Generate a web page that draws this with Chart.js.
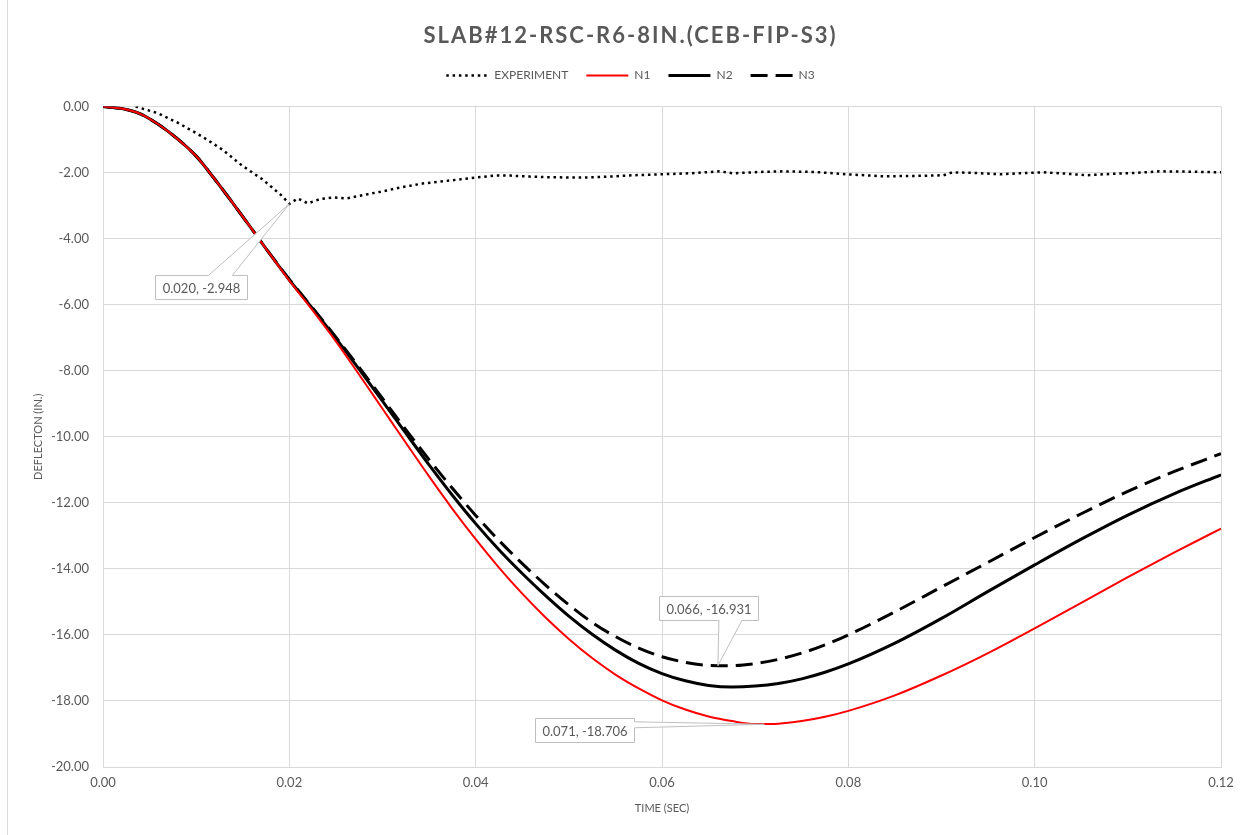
<!DOCTYPE html>
<html>
<head>
<meta charset="utf-8">
<script src="https://cdn.jsdelivr.net/npm/chart.js@4/dist/chart.umd.min.js"></script>
<style>
  html, body { margin: 0; padding: 0; background: #ffffff; }
  #wrap { position: relative; width: 1249px; height: 835px; }
  canvas { display: block; }
</style>
</head>
<body>
<div id="wrap"><canvas id="c" width="1249" height="835"></canvas></div>
<script>
// ---- data ----
const chartTitle = 'SLAB#12-RSC-R6-8IN.(CEB-FIP-S3)';
const xTitle = 'TIME (SEC)';
const yTitle = 'DEFLECTON (IN.)';
const seriesNames = ['EXPERIMENT', 'N1', 'N2', 'N3'];

const expT = [0.0035,0.0059,0.0081,0.0106,0.0128,0.0150,0.0171,0.0192,0.0200,0.0209,0.0220,0.0233,0.0247,0.0262,0.0283,0.0303,0.0319,0.0343,0.0372,0.0399,0.0421,0.0437,0.0458,0.0480,0.0515,0.0544,0.0569,0.0600,0.0630,0.0662,0.0676,0.0705,0.0730,0.0764,0.0799,0.0837,0.0872,0.0902,0.0912,0.0936,0.0963,0.0984,0.1009,0.1033,0.1056,0.1081,0.1108,0.1134,0.1167,0.1200];
const expY = [0,-0.2,-0.5,-0.9,-1.3,-1.8,-2.2,-2.7,-2.948,-2.78,-2.93,-2.80,-2.75,-2.78,-2.66,-2.55,-2.45,-2.33,-2.24,-2.15,-2.09,-2.09,-2.12,-2.14,-2.15,-2.12,-2.08,-2.05,-2.02,-1.96,-2.02,-1.98,-1.96,-1.98,-2.05,-2.11,-2.10,-2.08,-1.99,-2.01,-2.05,-2.02,-1.99,-2.03,-2.08,-2.04,-2.01,-1.96,-1.97,-1.99];

const modelT = [0,0.002,0.004,0.006,0.008,0.010,0.012,0.014,0.016,0.018,0.020,0.0225,0.025,0.0275,0.030,0.0325,0.035,0.0375,0.040,0.0425,0.045,0.0475,0.050,0.0525,0.055,0.0575,0.060,0.0625,0.065,0.0675,0.070,0.0725,0.075,0.0775,0.080,0.085,0.090,0.095,0.100,0.105,0.110,0.115,0.120];
const n1Y = [0,-0.06,-0.22,-0.55,-0.98,-1.5,-2.2,-2.95,-3.72,-4.5,-5.27,-6.17,-7.11,-8.12,-9.15,-10.18,-11.2,-12.18,-13.1,-13.96,-14.75,-15.47,-16.12,-16.7,-17.2,-17.62,-17.98,-18.26,-18.47,-18.61,-18.7,-18.69,-18.61,-18.48,-18.3,-17.83,-17.23,-16.55,-15.8,-15.03,-14.25,-13.5,-12.78];
const n2Y = [0,-0.06,-0.22,-0.55,-0.98,-1.5,-2.2,-2.95,-3.72,-4.5,-5.25,-6.12,-7.02,-7.96,-8.92,-9.89,-10.85,-11.77,-12.63,-13.42,-14.14,-14.81,-15.43,-15.98,-16.46,-16.86,-17.17,-17.39,-17.53,-17.58,-17.55,-17.47,-17.33,-17.13,-16.88,-16.25,-15.5,-14.68,-13.88,-13.1,-12.37,-11.72,-11.15];
const n3Y = [0,-0.06,-0.22,-0.55,-0.98,-1.5,-2.2,-2.95,-3.72,-4.49,-5.23,-6.1,-6.98,-7.9,-8.84,-9.78,-10.69,-11.56,-12.38,-13.14,-13.84,-14.49,-15.09,-15.62,-16.05,-16.4,-16.66,-16.83,-16.92,-16.93,-16.87,-16.74,-16.55,-16.3,-16.0,-15.3,-14.55,-13.8,-13.05,-12.33,-11.65,-11.05,-10.51];

const xTicks = [0, 0.02, 0.04, 0.06, 0.08, 0.10, 0.12];
const yTicks = [0, -2, -4, -6, -8, -10, -12, -14, -16, -18, -20];

const calloutX = [0.020, 0.066, 0.071];
const calloutY = [-2.948, -16.931, -18.706];

// ---- helpers ----
const pts = (xs, ys) => xs.map((x, i) => ({ x: x, y: ys[i] }));
const TXT = '#595959';
const GRID = '#d9d9d9';
const FONT = 'Lato, "Open Sans", sans-serif';

const framePlugin = {
  id: 'frame',
  beforeDraw(chart) {
    const ctx = chart.ctx;
    ctx.save();
    ctx.strokeStyle = GRID;
    ctx.lineWidth = 1;
    ctx.beginPath();
    ctx.moveTo(7.5, 0);
    ctx.lineTo(7.5, chart.height);
    ctx.stroke();
    ctx.restore();
  }
};

const titleSpacingPlugin = {
  id: 'titleSpacing',
  afterLayout(chart) {
    const tb = chart.titleBlock;
    if (tb && !tb._spaced) {
      const orig = tb.draw;
      tb.draw = function (...a) {
        const c = this.ctx;
        c.save();
        c.letterSpacing = '2px';
        orig.apply(this, a);
        c.restore();
      };
      tb._spaced = true;
    }
  }
};

const calloutPlugin = {
  id: 'callouts',
  afterDatasetsDraw(chart, args, opts) {
    const ctx = chart.ctx;
    const xs = chart.scales.x, ys = chart.scales.y;
    ctx.save();
    ctx.font = '13px ' + FONT;
    opts.items.forEach((it, i) => {
      const ax = xs.getPixelForValue(calloutX[i]);
      const ay = ys.getPixelForValue(calloutY[i]);
      const text = calloutX[i].toFixed(3) + ', ' + calloutY[i].toFixed(3);
      const w = Math.round(ctx.measureText(text).width + 14);
      const h = 24;
      const cx = ax + it.dx, cy = ay + it.dy;
      const l = Math.round(cx - w / 2) + 0.5, r = l + w;
      const t = Math.round(cy - h / 2) + 0.5, b = t + h;
      ctx.beginPath();
      ctx.moveTo(l, t);
      if (it.side === 'top') {
        ctx.lineTo(cx + it.base[0], t); ctx.lineTo(ax, ay); ctx.lineTo(cx + it.base[1], t);
      }
      ctx.lineTo(r, t);
      if (it.side === 'right') {
        ctx.lineTo(r, cy + it.base[0]); ctx.lineTo(ax, ay); ctx.lineTo(r, cy + it.base[1]);
      }
      ctx.lineTo(r, b);
      if (it.side === 'bottom') {
        ctx.lineTo(cx + it.base[1], b); ctx.lineTo(ax, ay); ctx.lineTo(cx + it.base[0], b);
      }
      ctx.lineTo(l, b);
      ctx.closePath();
      ctx.fillStyle = '#ffffff';
      ctx.fill();
      ctx.strokeStyle = '#bfbfbf';
      ctx.lineWidth = 1;
      ctx.stroke();
      ctx.fillStyle = TXT;
      ctx.textAlign = 'center';
      ctx.textBaseline = 'middle';
      ctx.fillText(text, (l + r) / 2, (t + b) / 2 + 1);
    });
    ctx.restore();
  }
};

new Chart(document.getElementById('c'), {
  type: 'line',
  data: {
    datasets: [
      { label: seriesNames[0], data: pts(expT, expY), borderColor: '#000000', backgroundColor: '#000000',
        borderWidth: 2.5, borderDash: [2.5, 3.8], borderCapStyle: 'butt', tension: 0,
        pointRadius: 0, pointStyle: 'line', xAxisID: 'x', yAxisID: 'y' },
      { label: seriesNames[1], data: pts(modelT, n1Y), borderColor: '#ff0000', backgroundColor: '#ff0000',
        borderWidth: 2, cubicInterpolationMode: 'monotone', pointRadius: 0, pointStyle: 'line', xAxisID: 'x', yAxisID: 'y' },
      { label: seriesNames[2], data: pts(modelT, n2Y), borderColor: '#000000', backgroundColor: '#000000',
        borderWidth: 3, cubicInterpolationMode: 'monotone', pointRadius: 0, pointStyle: 'line', xAxisID: 'x', yAxisID: 'y' },
      { label: seriesNames[3], data: pts(modelT, n3Y), borderColor: '#000000', backgroundColor: '#000000',
        borderWidth: 3, borderDash: [17, 8], cubicInterpolationMode: 'monotone', pointRadius: 0, pointStyle: 'line', xAxisID: 'x', yAxisID: 'y' }
    ]
  },
  options: {
    responsive: false,
    animation: false,
    layout: { padding: { left: 12, right: 0, top: 0, bottom: 0 } },
    plugins: {
      title: {
        display: true, text: chartTitle, color: TXT,
        font: { family: FONT, size: 22, weight: 'bold' },
        padding: { top: 23, bottom: 2 }
      },
      legend: {
        display: true, position: 'top',
        labels: {
          color: TXT, font: { family: FONT, size: 12 },
          usePointStyle: true, pointStyleWidth: 42, padding: 18,
          generateLabels(chart) {
            const items = Chart.defaults.plugins.legend.labels.generateLabels(chart);
            items.forEach(it => {
              const ds = chart.data.datasets[it.datasetIndex];
              it.lineDash = ds.borderDash || [];
              it.lineWidth = ds.borderWidth;
              it.strokeStyle = ds.borderColor;
              it.fillStyle = ds.borderColor;
              it.lineCap = 'butt';
              it.pointStyle = 'line';
            });
            return items;
          }
        }
      },
      tooltip: { enabled: false },
      callouts: {
        items: [
          { dx: -88, dy: 83.5, side: 'top', base: [7, 31] },
          { dx: -9, dy: -57.5, side: 'bottom', base: [10, 33] },
          { dx: -180, dy: 6, side: 'right', base: [-8.5, -2.5] }
        ]
      }
    },
    scales: {
      x: {
        type: 'linear', position: 'bottom', min: xTicks[0], max: xTicks[xTicks.length - 1],
        afterBuildTicks(s) { s.ticks = xTicks.map(v => ({ value: v })); },
        afterFit(s) { s.height = 68; },
        grid: { color: GRID, drawTicks: false, lineWidth: 1 },
        border: { color: GRID },
        ticks: { color: TXT, font: { family: FONT, size: 13 }, padding: 8, maxRotation: 0,
          callback: v => Number(v).toFixed(2) },
        title: { display: true, text: xTitle, color: TXT, font: { family: FONT, size: 11 }, padding: { top: 0, bottom: 20 } }
      },
      xTop: {
        type: 'linear', position: 'top', min: 0, max: 1, display: true,
        grid: { display: false }, border: { display: false }, ticks: { display: false },
        afterFit(s) { s.height = 15.2; }
      },
      y: {
        type: 'linear', position: 'left', min: yTicks[yTicks.length - 1], max: yTicks[0],
        afterBuildTicks(s) { s.ticks = yTicks.slice().reverse().map(v => ({ value: v })); },
        afterFit(s) { s.width = 91; },
        grid: { color: GRID, drawTicks: false, lineWidth: 1 },
        border: { color: GRID },
        ticks: { color: TXT, font: { family: FONT, size: 13 }, padding: 14,
          callback: v => Number(v).toFixed(2) },
        title: { display: true, text: yTitle, color: TXT, font: { family: FONT, size: 11 }, padding: { top: 19.5, bottom: 0 } }
      },
      yRight: {
        type: 'linear', position: 'right', min: 0, max: 1, display: true,
        grid: { display: false }, border: { display: false }, ticks: { display: false },
        afterFit(s) { s.width = 28; }
      }
    }
  },
  plugins: [framePlugin, titleSpacingPlugin, calloutPlugin]
});
</script>
</body>
</html>
